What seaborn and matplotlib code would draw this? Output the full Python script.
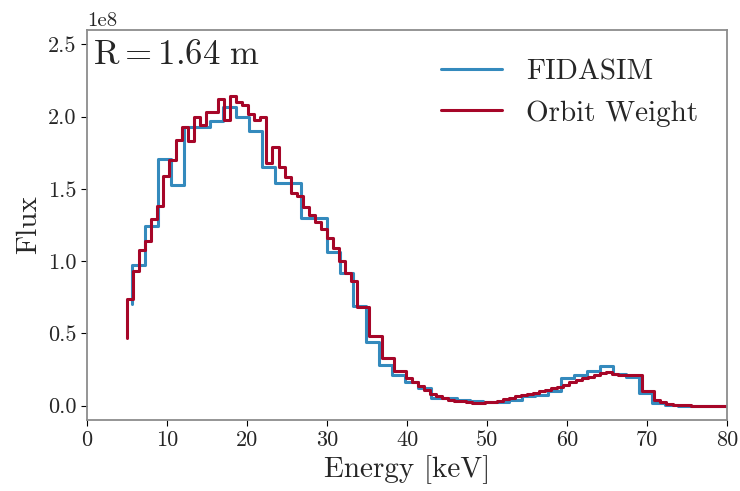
"""
Flux spectrum at R = 1.64 m: FIDASIM vs Orbit Weight
"""
import numpy as np
import pandas as pd
import matplotlib
matplotlib.use("Agg")
import matplotlib.pyplot as plt
import seaborn as sns

sns.set_style("ticks")
plt.rcParams["font.family"] = "serif"
plt.rcParams["font.serif"] = ["cmr10"]
plt.rcParams["mathtext.fontset"] = "cm"
plt.rcParams["axes.unicode_minus"] = False

BLUE = "#348ABD"
RED = "#A60628"

# energy grids [keV]
E_FIDA = np.linspace(5.6, 80.35, 47)
E_ORB = np.linspace(5.0, 80.0, 100)

# flux values in units of 1e8
FLUX_FIDA = [0.70, 0.975, 1.24, 1.71, 1.53, 1.93, 1.93, 1.97, 2.07, 2.00,
             1.90, 1.65, 1.54, 1.54, 1.30, 1.30, 1.06, 0.92, 0.69, 0.44,
             0.28, 0.21, 0.16, 0.12, 0.055, 0.05, 0.04, 0.03, 0.025, 0.023,
             0.04, 0.064, 0.075, 0.10, 0.19, 0.21, 0.237, 0.277, 0.22, 0.20,
             0.085, 0.02, 0.005, 0.0, 0.0, 0.0, 0.0]

FLUX_ORB = [0.47, 0.74, 0.93, 1.08, 1.14, 1.29, 1.38, 1.59, 1.70, 1.84,
            1.93, 1.83, 2.00, 1.94, 2.03, 2.03, 2.12, 1.98, 2.14, 2.10,
            2.08, 2.02, 1.98, 2.00, 1.68, 1.79, 1.65, 1.585, 1.475, 1.45,
            1.375, 1.32, 1.27, 1.22, 1.16, 1.09, 1.00, 0.92, 0.865, 0.68,
            0.68, 0.48, 0.48, 0.33, 0.33, 0.24, 0.24, 0.19, 0.16, 0.134,
            0.11, 0.083, 0.069, 0.053, 0.041, 0.033, 0.03, 0.025, 0.02, 0.019,
            0.022, 0.028, 0.035, 0.045, 0.055, 0.065, 0.076, 0.08, 0.09, 0.10,
            0.11, 0.12, 0.13, 0.145, 0.16, 0.175, 0.19, 0.20, 0.215, 0.225,
            0.23, 0.22, 0.215, 0.21, 0.215, 0.215, 0.10, 0.10, 0.037, 0.023,
            0.011, 0.005, 0.002, 0.001, 0.0, 0.0, 0.0, 0.0, 0.0, 0.0]

df = pd.concat([
    pd.DataFrame({"energy": E_FIDA, "flux": np.array(FLUX_FIDA) * 1e8,
                  "source": "FIDASIM"}),
    pd.DataFrame({"energy": E_ORB, "flux": np.array(FLUX_ORB) * 1e8,
                  "source": "Orbit Weight"}),
])

fig = plt.figure(figsize=(7.4, 4.91), dpi=100)
ax = fig.add_axes([0.1176, 0.1446, 0.8649, 0.7943])

sns.lineplot(data=df, x="energy", y="flux", hue="source",
             palette=[BLUE, RED], drawstyle="steps-pre", lw=2.2,
             errorbar=None, ax=ax)

ax.set_xlim(0, 80)
ax.set_ylim(-0.1e8, 2.6e8)
ax.set_xticks(range(0, 81, 10))
ax.set_yticks(np.arange(0, 2.51e8, 0.5e8))
ax.set_xlabel("Energy [keV]", fontsize=21)
ax.set_ylabel("Flux", fontsize=21)
ax.tick_params(labelsize=16, color="k", length=4)
ax.yaxis.get_offset_text().set_fontsize(15)
for sp in ax.spines.values():
    sp.set_color("0.55")
    sp.set_linewidth(1.3)

ax.text(0.01, 0.975, r"$\mathrm{R = 1.64\ m}$", transform=ax.transAxes,
        fontsize=25, ha="left", va="top")

ax.legend(frameon=False, fontsize=21, loc="upper right",
          handlelength=2.1, borderaxespad=0.6)

fig.savefig("out.png", dpi=100)
